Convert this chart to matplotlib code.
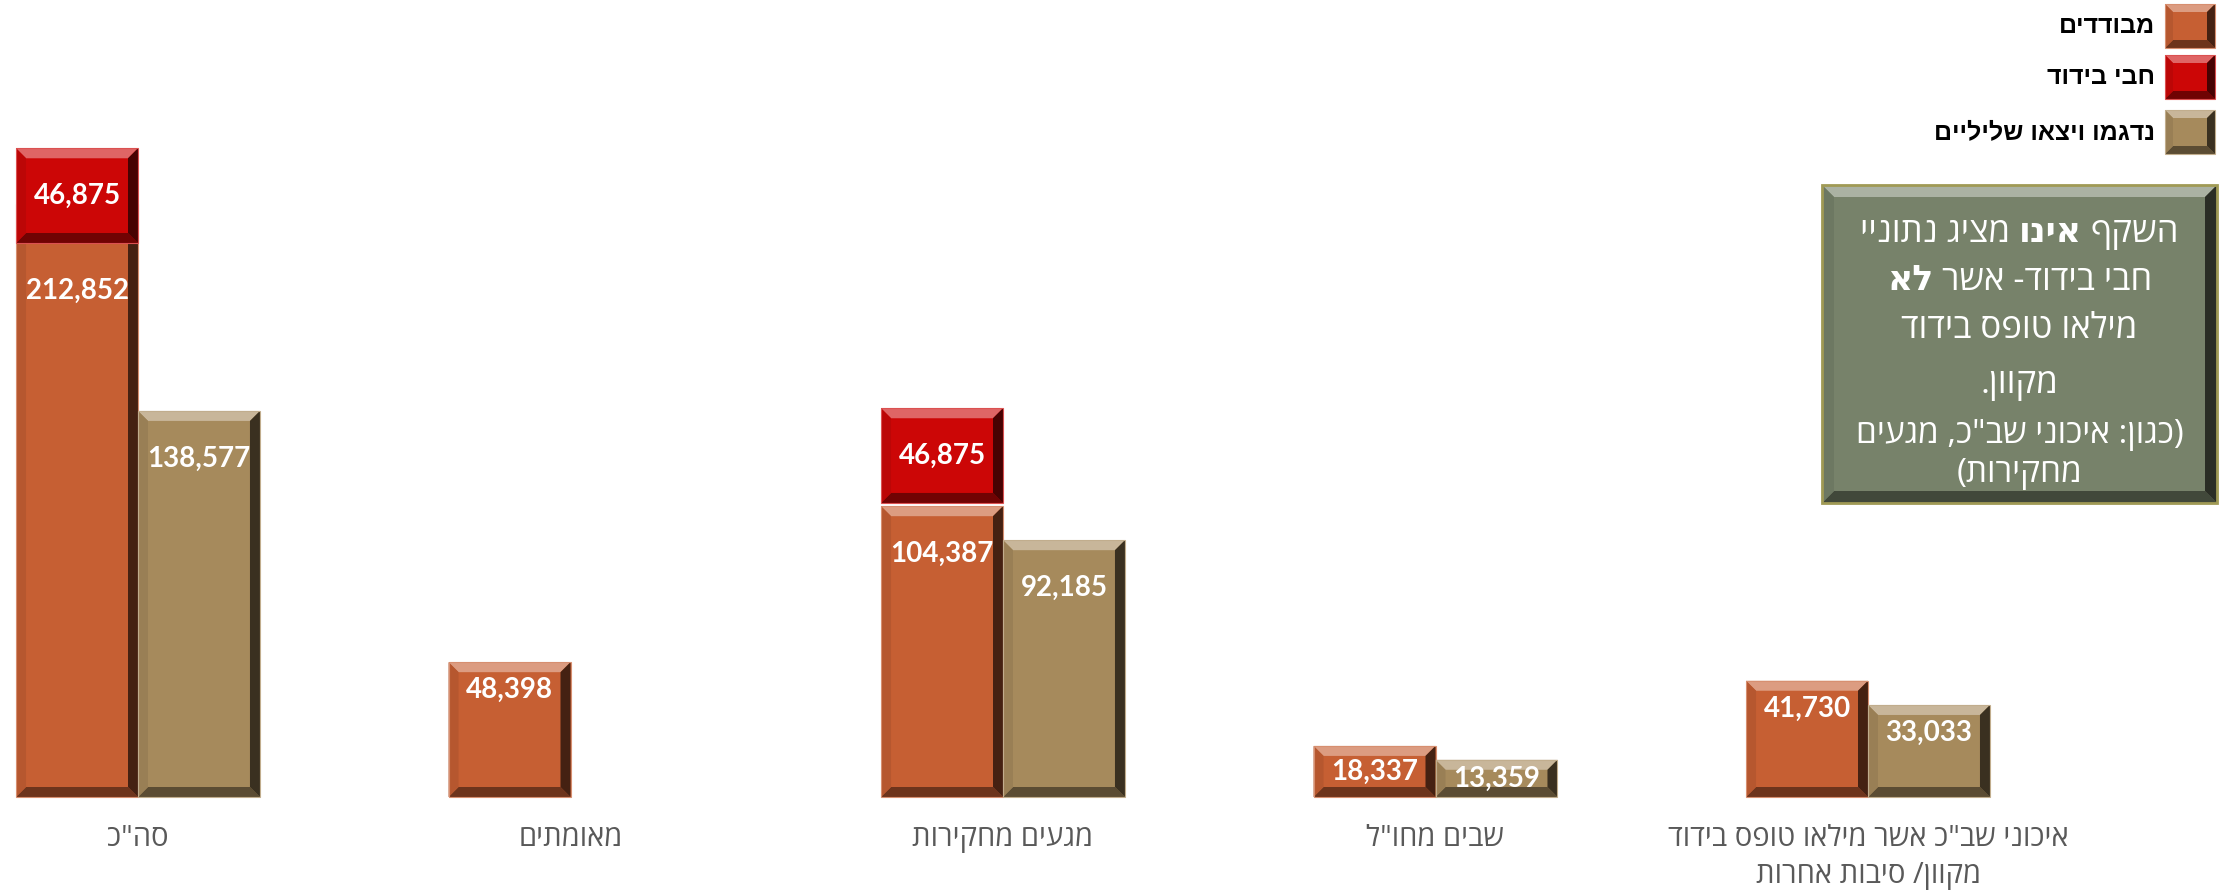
import numpy as np
import matplotlib
matplotlib.use("Agg")
import matplotlib.pyplot as plt
from matplotlib.patches import Polygon, Rectangle
from matplotlib.colors import to_rgb
from matplotlib.transforms import IdentityTransform, blended_transform_factory

# data
categories = ['סה"כ', 'מאומתים', 'מגעים מחקירות', 'שבים מחו"ל',
              'איכוני שב"כ אשר מילאו טופס בידוד\nמקוון/ סיבות אחרות']
isolated = [212852, 48398, 104387, 18337, 41730]
negative = [138577, None, 92185, 13359, 33033]
exempt_cats = [0, 2]
exempt = [46875, 46875]
series_names = ['מבודדים', 'חבי בידוד', 'נדגמו ויצאו שליליים']
note_lines = [
    [('השקף', False), ('אינו', True), ('מציג נתוניי', False)],
    [('חבי בידוד- אשר', False), ('לא', True)],
    [('מילאו טופס בידוד', False)],
    [('מקוון.', False)],
    [('(כגון: איכוני שב"כ, מגעים', False)],
    [('מחקירות)', False)],
]

ORANGE = '#C65F33'
RED = '#CC0606'
TAN = '#A68A5C'
NOTE = '#77826A'

W, H = 2228, 894
BASE = 797  # baseline, px from top

MIRROR = str.maketrans('()', ')(')


def rtl(s):
    # matplotlib has no bidi support: put the Hebrew text in visual order
    return s[::-1].translate(MIRROR)


fig = plt.figure(figsize=(W / 100, H / 100), dpi=100)
ax = fig.add_axes([0, (H - BASE) / H, 1, BASE / H])
ax.set_xlim(-138 / 432.5, (W - 138) / 432.5)
ax.set_ylim(0, BASE / 2.786 * 1000)
ax.axis('off')

ID = IdentityTransform()


def bevel(x0, y0, x1, y1, color, b=10, z=3):
    # x0,y0 bottom-left, display pixels
    c = np.array(to_rgb(color))
    light = c + (1 - c) * 0.38
    left = c * 0.92
    bottom = c * 0.55
    right = c * 0.35
    ax.add_patch(Rectangle((x0, y0), x1 - x0, y1 - y0, facecolor=c, edgecolor='none',
                           transform=ID, zorder=z, clip_on=False))
    polys = [
        ([(x0, y1), (x1, y1), (x1 - b, y1 - b), (x0 + b, y1 - b)], light),
        ([(x0, y0), (x1, y0), (x1 - b, y0 + b), (x0 + b, y0 + b)], bottom),
        ([(x0, y0), (x0 + b, y0 + b), (x0 + b, y1 - b), (x0, y1)], left),
        ([(x1, y0), (x1 - b, y0 + b), (x1 - b, y1 - b), (x1, y1)], right),
    ]
    for pts, col in polys:
        ax.add_patch(Polygon(pts, closed=True, facecolor=col, edgecolor='none',
                             transform=ID, zorder=z + 0.1, clip_on=False))
    ax.add_patch(Rectangle((x0, y0), x1 - x0, y1 - y0, facecolor='none',
                           edgecolor=c + (1 - c) * 0.3, linewidth=0.8,
                           transform=ID, zorder=z + 0.2, clip_on=False))


def draw_bars(bars, color, z=3):
    out = []
    for p in bars:
        p.set_visible(False)
        (x0, y0) = ax.transData.transform((p.get_x(), p.get_y()))
        (x1, y1) = ax.transData.transform((p.get_x() + p.get_width(), p.get_y() + p.get_height()))
        bevel(x0, y0, x1, y1, color, z=z)
        out.append((x0, y0, x1, y1))
    return out


xs = np.arange(len(categories))
w = 0.282
iso_bars = ax.bar(xs - w / 2, isolated, w)
neg_x = [x for x, v in zip(xs, negative) if v is not None]
neg_v = [v for v in negative if v is not None]
neg_bars = ax.bar(np.array(neg_x) + w / 2, neg_v, w)

# the red boxes are callouts sitting on the orange bars, not to scale
red_h = 34000
red_shift = [-14000, 1150]
red_bottom = [isolated[c] + s for c, s in zip(exempt_cats, red_shift)]
red_bars = ax.bar(xs[exempt_cats] - w / 2, [red_h] * len(exempt), w, bottom=red_bottom)

iso_px = draw_bars(iso_bars, ORANGE, z=3)
neg_px = draw_bars(neg_bars, TAN, z=3)
red_px = draw_bars(red_bars, RED, z=5)

lab_kw = dict(color='white', fontsize=20, fontweight='bold', family=['Lato', 'DejaVu Sans'],
              ha='center', va='center', transform=ID, zorder=8)


def label_bar(box, val, cover=None):
    x0, y0, x1, y1 = box
    top = y1 if cover is None else min(y1, cover)
    off = 48 if (y1 - y0) > 200 else 28
    y = max(top - off, (y0 + top) / 2)
    ax.text((x0 + x1) / 2, y, f'{val:,}', **lab_kw)


for i, (box, val) in enumerate(zip(iso_px, isolated)):
    cover = None
    if i in exempt_cats:
        cover = red_px[exempt_cats.index(i)][1]
    label_bar(box, val, cover)
for box, val in zip(neg_px, neg_v):
    label_bar(box, val)
for box, val in zip(red_px, exempt):
    x0, y0, x1, y1 = box
    ax.text((x0 + x1) / 2, (y0 + y1) / 2, f'{val:,}', **lab_kw)

# category labels
tr = blended_transform_factory(ax.transData, ID)
for x, cat in zip(xs, categories):
    for k, line in enumerate(cat.split('\n')):
        ax.text(x, H - 846 - 37 * k, rtl(line), transform=tr, ha='center', va='baseline',
                fontsize=21, color='#595959', family=['Open Sans', 'DejaVu Sans'], clip_on=False)

# legend (top right)
for name, color, yc in zip(series_names, [ORANGE, RED, TAN], [26, 77, 132]):
    bevel(2165, H - yc - 22, 2215, H - yc + 22, color, b=8)
    ax.text(2155, H - yc, rtl(name), transform=ID, ha='right', va='center', fontsize=18,
            fontweight='bold', color='black', family=['Liberation Sans', 'DejaVu Sans'])

# note box
bevel(1822, H - 503, 2217, H - 185, NOTE, b=12, z=3)
ax.add_patch(Rectangle((1822, H - 503), 395, 318, facecolor='none', edgecolor='#A09A55',
                       linewidth=2, transform=ID, zorder=4, clip_on=False))
renderer = fig.canvas.get_renderer()
cx = (1822 + 2217) / 2
for k, (segs, yb) in enumerate(zip(note_lines, [242, 290, 338, 393, 443, 482])):
    fs = 25 if k < 4 else 24
    gap = fs * 100 / 72 * 0.26
    items = []
    for text, bold in reversed(segs):
        t = ax.text(0, H - yb, rtl(text), transform=ID, ha='left', va='baseline', fontsize=fs,
                    fontweight='bold' if bold else 'normal', color='white',
                    family=['Open Sans', 'DejaVu Sans'], zorder=6)
        items.append((t, t.get_window_extent(renderer).width))
    total = sum(wd for _, wd in items) + gap * (len(items) - 1)
    x = cx - total / 2
    for t, wd in items:
        t.set_x(x)
        x += wd + gap

fig.savefig('out.png', dpi=100)
